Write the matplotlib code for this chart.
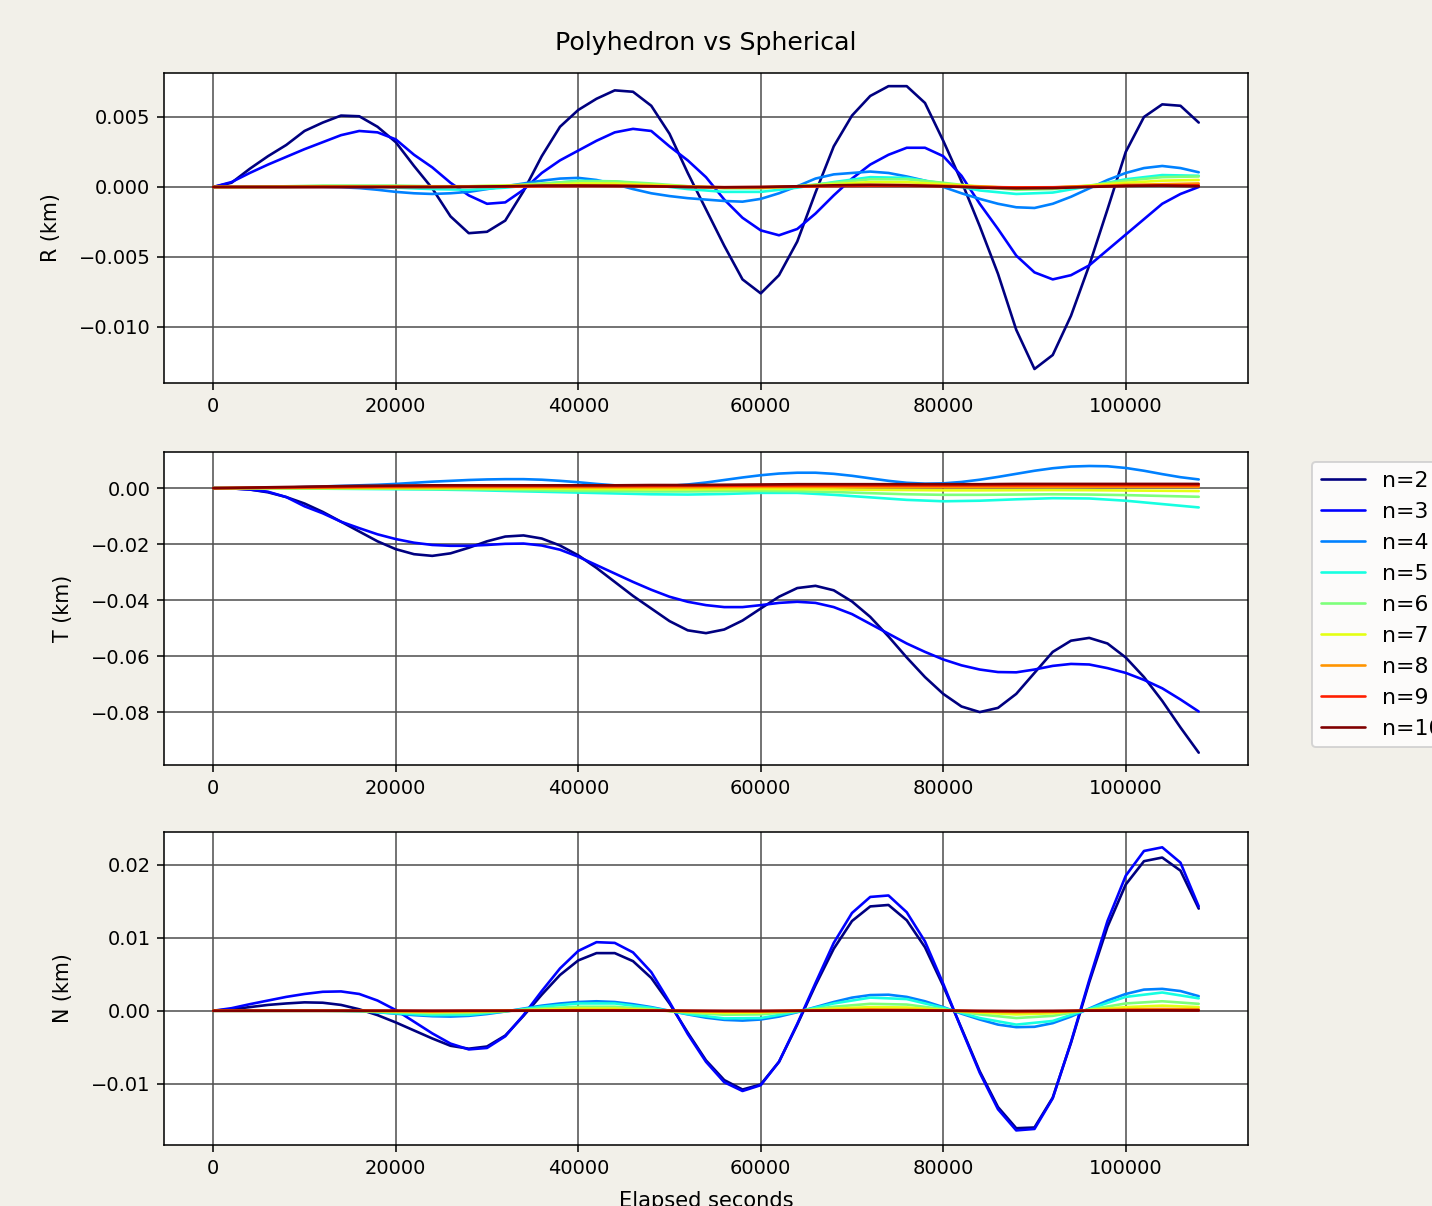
import numpy as np
import matplotlib
matplotlib.use("Agg")
import matplotlib.pyplot as plt

# ---------------- data (values in 1e-3 km) ----------------
t_fine = np.arange(0, 108001, 2000)      # sample times, every 2000 s
t_coarse = np.arange(0, 108001, 4000)    # sample times, every 4000 s
labels = ["n=%d" % n for n in range(2, 11)]

R_n2 = [0, 0.3, 1.3, 2.2, 3.0, 4.0, 4.6, 5.1, 5.05, 4.3, 3.2, 1.5, -0.1, -2.1, -3.3, -3.2, -2.4, -0.3,
        2.2, 4.3, 5.5, 6.3, 6.9, 6.8, 5.8, 3.8, 1.0, -1.6, -4.2, -6.6, -7.6, -6.3, -3.9, -0.4, 2.9, 5.1,
        6.5, 7.2, 7.2, 6.0, 3.3, 0.4, -2.8, -6.2, -10.2, -13.0, -12.0, -9.2, -5.6, -1.6, 2.5, 5.0, 5.9, 5.8, 4.6]
R_n3 = [0, 0.35, 1.0, 1.6, 2.15, 2.7, 3.2, 3.7, 4.0, 3.9, 3.4, 2.3, 1.4, 0.3, -0.6, -1.2, -1.1, -0.2,
        1.0, 1.9, 2.6, 3.3, 3.9, 4.15, 4.0, 2.9, 1.9, 0.7, -0.9, -2.2, -3.1, -3.45, -3.0, -1.9, -0.6, 0.6,
        1.6, 2.3, 2.8, 2.8, 2.2, 0.8, -1.2, -3.0, -4.9, -6.1, -6.6, -6.3, -5.6, -4.5, -3.4, -2.3, -1.2, -0.5, 0.0]
R_n4 = [0, 0, 0, 0, 0, 0, 0, -0.02, -0.08, -0.2, -0.35, -0.45, -0.5, -0.45, -0.35, -0.15, 0.05, 0.25,
        0.45, 0.6, 0.65, 0.5, 0.2, -0.15, -0.45, -0.65, -0.8, -0.9, -1.0, -1.05, -0.85, -0.45, 0.05, 0.6, 0.9, 1.0,
        1.1, 1.0, 0.75, 0.45, 0.0, -0.45, -0.85, -1.2, -1.45, -1.5, -1.2, -0.7, -0.1, 0.5, 1.0, 1.35, 1.5, 1.35, 1.05]
R_n5 = [0, 0, 0, 0.05, 0.05, -0.05, -0.15, -0.2, -0.05, 0.2, 0.45, 0.4, 0.15, -0.15, -0.35, -0.35, -0.05,
        0.35, 0.7, 0.65, 0.25, -0.25, -0.5, -0.4, 0.05, 0.55, 0.85, 0.8]
R_n6 = [0, 0, 0.05, 0.1, 0.1, 0.1, 0.05, 0.05, 0.1, 0.25, 0.4, 0.4, 0.25, 0.05, -0.1, -0.1, 0.05, 0.3,
        0.55, 0.55, 0.3, 0.0, -0.2, -0.15, 0.1, 0.45, 0.7, 0.75]
R_n7 = [0, 0, 0.02, 0.05, 0.05, 0.05, 0.05, 0.05, 0.1, 0.15, 0.25, 0.25, 0.15, 0.05, -0.05, -0.05, 0.05,
        0.2, 0.35, 0.35, 0.2, 0.05, -0.1, -0.05, 0.1, 0.3, 0.45, 0.5]
R_n8 = [0, 0, 0, 0.02, 0.02, 0.02, 0.02, 0.02, 0.05, 0.08, 0.12, 0.12, 0.08, 0.02, -0.02, -0.02, 0.02,
        0.1, 0.15, 0.15, 0.1, 0.02, -0.05, -0.03, 0.05, 0.15, 0.2, 0.25]
R_n9 = [0, 0, 0, 0, 0, 0, 0, 0, 0.02, 0.05, 0.06, 0.06, 0.04, 0.0, -0.02, -0.01, 0.02, 0.06, 0.08, 0.08,
        0.05, 0.0, -0.03, -0.02, 0.03, 0.08, 0.12, 0.12]
R_n10 = [0, 0, 0, 0, 0, 0, 0, 0.02, 0.05, 0.1, 0.1, 0.08, 0.05, 0.0, -0.02, 0.0, 0.05, 0.12, 0.15, 0.12,
         0.05, -0.05, -0.1, -0.08, 0.0, 0.08, 0.1, 0.05]

T_n2 = [0, -0.1, -0.5, -1.5, -3.2, -5.5, -8.5, -12, -15.5, -19, -21.8, -23.6, -24.2, -23.3, -21.3, -19.0,
        -17.3, -16.9, -18.0, -20.5, -24.0, -28.5, -33.5, -38.5, -43.0, -47.5, -50.8, -51.8, -50.5, -47.3,
        -43.0, -38.8, -35.7, -34.9, -36.5, -40.5, -46.0, -53.0, -60.5, -67.5, -73.5, -78.0, -80.0, -78.5,
        -73.5, -66.0, -58.5, -54.5, -53.5, -55.5, -60.5, -67.5, -76.0, -85.5, -94.5]
T_n3 = [0, -0.1, -0.5, -1.3, -3.2, -6.5, -9.0, -12.0, -14.3, -16.5, -18.2, -19.5, -20.3, -20.6, -20.6,
        -20.3, -19.9, -19.8, -20.5, -22.0, -24.5, -27.5, -30.5, -33.5, -36.3, -38.8, -40.6, -41.8, -42.5,
        -42.5, -41.8, -41.0, -40.6, -41.0, -42.5, -45.0, -48.5, -52.0, -55.5, -58.5, -61.2, -63.3, -64.8,
        -65.7, -65.8, -64.8, -63.5, -62.8, -63.0, -64.3, -66.0, -68.5, -71.5, -75.5, -79.8]
T_n4 = [0, 0, 0, 0.1, 0.2, 0.4, 0.6, 0.8, 1.0, 1.2, 1.5, 1.9, 2.3, 2.6, 2.9, 3.1, 3.2, 3.2, 3.0, 2.6, 2.1,
        1.5, 1.0, 0.7, 0.6, 0.8, 1.3, 2.0, 2.9, 3.8, 4.6, 5.2, 5.5, 5.5, 5.1, 4.4, 3.5, 2.6, 1.9, 1.6, 1.7,
        2.2, 3.0, 4.0, 5.1, 6.2, 7.1, 7.7, 7.9, 7.8, 7.2, 6.2, 5.0, 3.9, 3.1]
T_n5 = [0, 0, -0.1, -0.2, -0.3, -0.4, -0.5, -0.7, -1.0, -1.3, -1.6, -1.9, -2.2, -2.3, -2.1, -1.7, -1.7,
        -2.4, -3.3, -4.2, -4.7, -4.5, -4.0, -3.6, -3.7, -4.5, -5.7, -6.9]
T_n6 = [0, 0, 0, -0.1, -0.15, -0.2, -0.3, -0.4, -0.6, -0.8, -1.0, -1.1, -1.2, -1.2, -1.1, -1.0, -1.1,
        -1.4, -1.8, -2.2, -2.4, -2.4, -2.3, -2.2, -2.3, -2.5, -2.8, -3.1]
T_n7 = [0, 0, 0, 0, 0, 0, -0.05, -0.1, -0.15, -0.2, -0.3, -0.35, -0.4, -0.4, -0.35, -0.3, -0.35, -0.45,
        -0.6, -0.7, -0.8, -0.8, -0.75, -0.7, -0.75, -0.85, -0.95, -1.05]
T_n8 = [0, 0.05, 0.1, 0.15, 0.2, 0.25, 0.3, 0.3, 0.3, 0.3, 0.3, 0.3, 0.3, 0.3, 0.35, 0.4, 0.4, 0.4, 0.35,
        0.35, 0.35, 0.35, 0.4, 0.45, 0.45, 0.45, 0.45, 0.45]
T_n9 = [0, 0.1, 0.25, 0.4, 0.5, 0.6, 0.65, 0.7, 0.7, 0.7, 0.7, 0.7, 0.75, 0.8, 0.85, 0.9, 0.95, 0.95,
        0.95, 0.95, 0.95, 1.0, 1.0, 1.05, 1.05, 1.05, 1.05, 1.05]
T_n10 = [0, 0.2, 0.4, 0.6, 0.8, 0.9, 1.0, 1.0, 1.0, 1.0, 1.0, 1.0, 1.1, 1.1, 1.2, 1.3, 1.4, 1.4, 1.4,
         1.4, 1.4, 1.4, 1.5, 1.5, 1.5, 1.5, 1.5, 1.5]

N_n2 = [0, 0.2, 0.5, 0.8, 1.0, 1.15, 1.1, 0.8, 0.2, -0.6, -1.6, -2.7, -3.8, -4.8, -5.2, -4.9, -3.4, -0.7,
        2.2, 4.9, 6.9, 7.9, 7.9, 6.8, 4.5, 1.0, -3.0, -6.8, -9.5, -10.8, -10.1, -7.0, -1.9, 3.5, 8.5, 12.3,
        14.3, 14.5, 12.4, 8.7, 3.4, -2.4, -8.3, -13.2, -16.1, -16.0, -11.9, -4.4, 3.9, 11.5, 17.3, 20.5,
        21.0, 19.2, 14.0]
N_n3 = [0, 0.35, 0.9, 1.4, 1.9, 2.3, 2.6, 2.65, 2.3, 1.4, 0.1, -1.5, -3.1, -4.5, -5.3, -5.1, -3.5, -0.6,
        2.7, 5.8, 8.2, 9.4, 9.3, 8.0, 5.3, 1.2, -3.2, -7.0, -9.8, -11.0, -10.2, -7.0, -1.8, 3.8, 9.3, 13.4,
        15.6, 15.8, 13.5, 9.5, 3.7, -2.5, -8.5, -13.5, -16.4, -16.2, -12.0, -4.3, 4.2, 12.3, 18.5, 21.9,
        22.4, 20.3, 14.3]
N_n4 = [0, 0, 0, 0, 0, 0, 0, 0, -0.05, -0.2, -0.4, -0.6, -0.75, -0.8, -0.7, -0.45, -0.1, 0.3, 0.7, 1.0,
        1.2, 1.3, 1.2, 0.9, 0.5, 0.0, -0.5, -0.95, -1.25, -1.35, -1.2, -0.8, -0.2, 0.5, 1.2, 1.8, 2.15, 2.2,
        1.9, 1.3, 0.5, -0.4, -1.2, -1.9, -2.25, -2.2, -1.7, -0.8, 0.3, 1.4, 2.3, 2.9, 3.0, 2.7, 2.0]
N_n5 = [0, 0, 0, 0, -0.05, -0.35, -0.6, -0.55, -0.1, 0.55, 1.0, 1.0, 0.4, -0.45, -1.05, -1.0, -0.15, 1.0,
        1.8, 1.6, 0.4, -1.0, -1.9, -1.4, 0.25, 1.9, 2.5, 1.7]
N_n6 = [0, 0, 0, 0, -0.03, -0.2, -0.35, -0.3, -0.05, 0.3, 0.55, 0.55, 0.2, -0.25, -0.55, -0.5, -0.05,
        0.55, 0.95, 0.85, 0.2, -0.5, -1.0, -0.7, 0.15, 1.0, 1.3, 0.95]
N_n7 = [0, 0, 0, 0, 0, -0.1, -0.2, -0.15, 0, 0.15, 0.3, 0.3, 0.1, -0.15, -0.3, -0.25, 0, 0.3, 0.5, 0.45,
        0.1, -0.25, -0.5, -0.35, 0.1, 0.5, 0.7, 0.5]
N_n8 = [0, 0, 0, 0, 0, -0.05, -0.1, -0.05, 0, 0.05, 0.1, 0.1, 0.05, -0.05, -0.1, -0.1, 0, 0.1, 0.2, 0.15,
        0.05, -0.1, -0.2, -0.15, 0.05, 0.2, 0.25, 0.2]
N_n9 = [0, 0, 0, 0, 0, 0, -0.03, 0, 0, 0.02, 0.04, 0.04, 0.02, -0.02, -0.04, -0.04, 0, 0.04, 0.07, 0.06,
        0.02, -0.04, -0.07, -0.05, 0.02, 0.07, 0.09, 0.07]
N_n10 = [0, 0, 0, 0, 0, 0, 0, 0, 0, 0.01, 0.02, 0.02, 0.01, 0, -0.02, -0.02, 0, 0.02, 0.03, 0.03, 0.01,
         -0.02, -0.03, -0.02, 0.01, 0.03, 0.04, 0.03]

R_series = [R_n2, R_n3, R_n4, R_n5, R_n6, R_n7, R_n8, R_n9, R_n10]
T_series = [T_n2, T_n3, T_n4, T_n5, T_n6, T_n7, T_n8, T_n9, T_n10]
N_series = [N_n2, N_n3, N_n4, N_n5, N_n6, N_n7, N_n8, N_n9, N_n10]

# ---------------- figure ----------------
DPI = 140
W, H = 1432, 1206
bg = "#f2f0e9"
fig = plt.figure(figsize=(W / DPI, H / DPI), dpi=DPI, facecolor=bg)

def box(l, t, r, b):
    return [l / W, 1 - b / H, (r - l) / W, (b - t) / H]

ax1 = fig.add_axes(box(164, 73, 1248, 383))
ax2 = fig.add_axes(box(164, 452, 1248, 765))
ax3 = fig.add_axes(box(164, 832, 1248, 1145))

colors = plt.cm.jet(np.linspace(0, 1, 9))

def times_for(vals):
    return t_fine if len(vals) == len(t_fine) else t_coarse

for ax, series, ylab, ylim in [
    (ax1, R_series, "R (km)", (-0.01400, 0.00814)),
    (ax2, T_series, "T (km)", (-0.0989, 0.0129)),
    (ax3, N_series, "N (km)", (-0.0184, 0.0245)),
]:
    for vals, c, lab in zip(series, colors, labels):
        ax.plot(times_for(vals), np.array(vals) * 1e-3, color=c, lw=1.35, label=lab,
                solid_joinstyle="round", solid_capstyle="round")
    ax.set_ylabel(ylab, fontsize=10.6, labelpad=9)
    ax.set_ylim(*ylim)
    ax.set_xlim(-5400, 113400)
    ax.set_xticks([0, 20000, 40000, 60000, 80000, 100000])
    ax.grid(True, color="#505050", linewidth=0.8)
    ax.set_facecolor("white")

ax1.set_yticks([-0.010, -0.005, 0.000, 0.005])
ax2.set_yticks([-0.08, -0.06, -0.04, -0.02, 0.00])
ax3.set_yticks([-0.01, 0.00, 0.01, 0.02])

ax1.set_title("Polyhedron vs Spherical", fontsize=13, pad=12)
ax3.set_xlabel("Elapsed seconds", fontsize=10.8, labelpad=7)

handles, labs = ax2.get_legend_handles_labels()
fig.legend(handles, labs, loc="upper left", fontsize=11.3,
           bbox_to_anchor=(1312 / W, 1 - 462 / H), borderaxespad=0.0)

fig.savefig("out.png", dpi=DPI, facecolor=bg)
